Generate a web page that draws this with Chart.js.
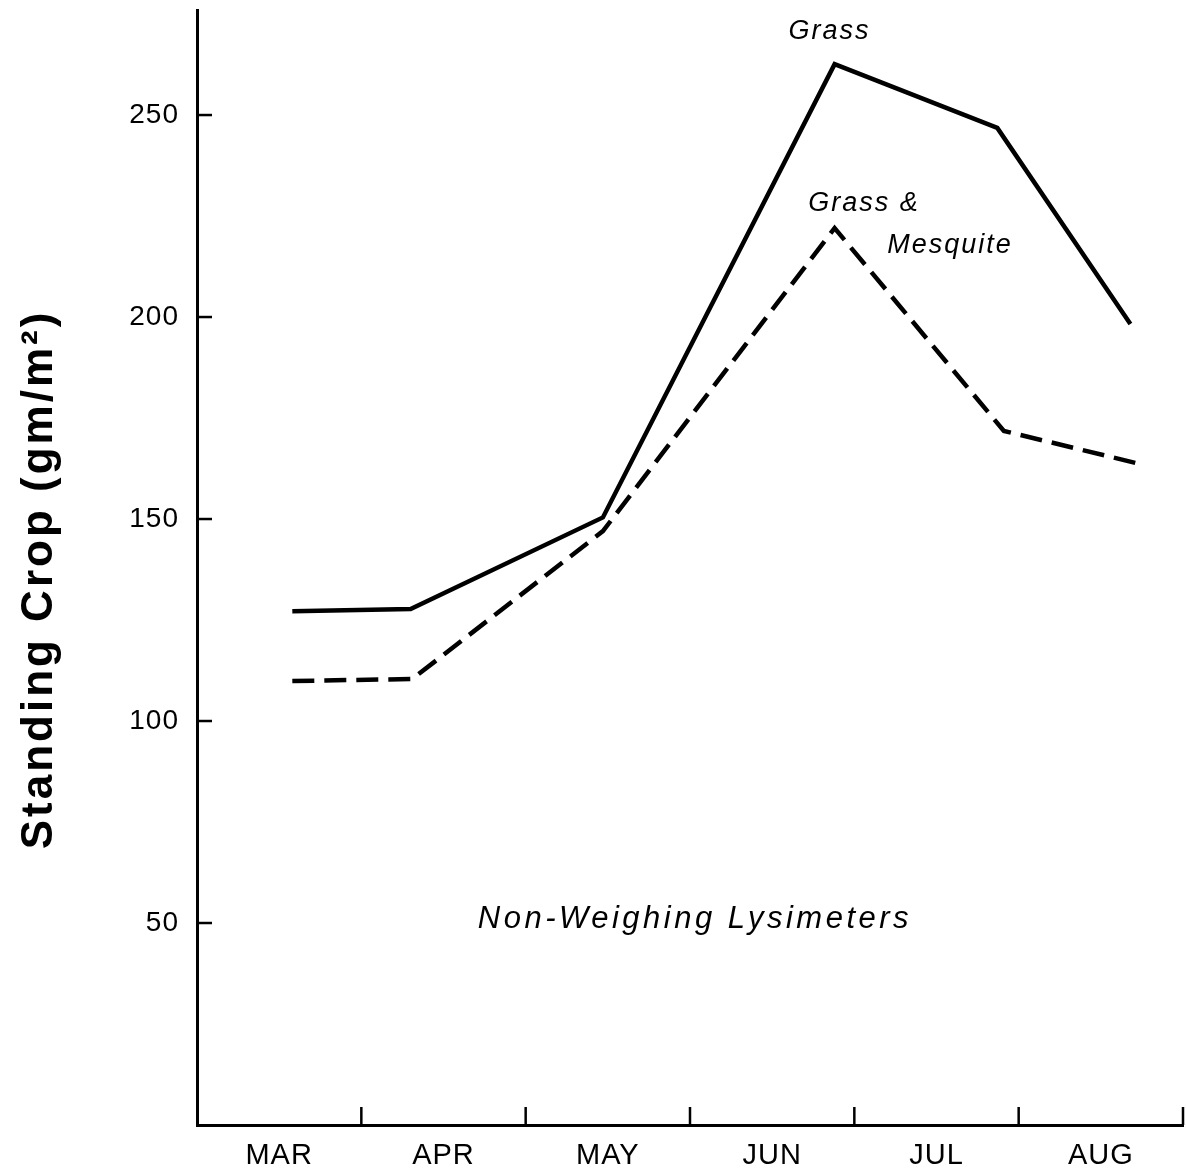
<!DOCTYPE html>
<html>
<head>
<meta charset="utf-8">
<script src="https://cdn.jsdelivr.net/npm/chart.js@4.4.0/dist/chart.umd.min.js"></script>
<style>
  html, body { margin: 0; padding: 0; background: #fff; }
  canvas { display: block; }
</style>
</head>
<body>
<canvas id="grafico" width="1186" height="1173"></canvas>
<script>
// meses (cada uno ocupa un intervalo del eje x)
const meses = ["MAR", "APR", "MAY", "JUN", "JUL", "AUG"];
const ticksY = [50, 100, 150, 200, 250];

// fechas de muestreo (en meses desde el 1 de marzo) y biomasa en pie
const grassX = [0.58, 1.30, 2.47, 3.88, 4.87, 5.68];
const grassY = [127.2, 127.7, 150.4, 262.6, 246.8, 198.3];
const mezclaX = [0.58, 1.31, 2.47, 3.88, 4.91, 5.71];
const mezclaY = [109.9, 110.4, 147.0, 222.0, 171.8, 163.9];

// textos sobre el gráfico: [texto, x, y, alineación, tamaño]
const rotulos = [
  ["Grass", 3.60, 270.8, "left", 27],
  ["Grass &", 3.72, 228.0, "left", 27],
  ["Mesquite", 4.20, 217.6, "left", 27],
  ["Non-Weighing Lysimeters", 3.03, 51.0, "center", 31]
];

const FUENTE = "'Liberation Sans', Arial, sans-serif";

const marcasPlugin = {
  id: "marcas",
  beforeDraw(chart) {
    chart.ctx.letterSpacing = "1px";
  },
  afterDraw(chart) {
    const { ctx, chartArea, scales } = chart;
    const x = scales.x, y = scales.y;
    ctx.save();
    ctx.strokeStyle = "#000";
    ctx.lineWidth = 2.5;
    // marcas del eje x hacia dentro
    for (let i = 1; i <= meses.length; i++) {
      const px = x.getPixelForValue(i);
      ctx.beginPath();
      ctx.moveTo(px, chartArea.bottom);
      ctx.lineTo(px, chartArea.bottom - 18);
      ctx.stroke();
    }
    // marcas del eje y hacia dentro
    ticksY.forEach(v => {
      const py = y.getPixelForValue(v);
      ctx.beginPath();
      ctx.moveTo(chartArea.left, py);
      ctx.lineTo(chartArea.left + 15, py);
      ctx.stroke();
    });

    // rótulos en cursiva
    ctx.fillStyle = "#000";
    ctx.textBaseline = "middle";
    rotulos.forEach(([t, vx, vy, al, tam]) => {
      ctx.font = `italic ${tam}px ${FUENTE}`;
      ctx.letterSpacing = tam > 28 ? "3.5px" : "2px";
      ctx.textAlign = al;
      ctx.fillText(t, x.getPixelForValue(vx), y.getPixelForValue(vy));
    });

    // título del eje y
    ctx.translate(40, (chartArea.top + chartArea.bottom) / 2 + 12);
    ctx.rotate(-Math.PI / 2);
    ctx.font = `bold 44px ${FUENTE}`;
    ctx.letterSpacing = "3px";
    ctx.textAlign = "center";
    ctx.fillText("Standing Crop (gm/m²)", 0, 0);
    ctx.restore();
  }
};

new Chart(document.getElementById("grafico"), {
  type: "line",
  data: {
    datasets: [
      {
        label: "Grass",
        data: grassX.map((v, i) => ({ x: v, y: grassY[i] })),
        borderColor: "#000",
        borderWidth: 4.5,
        pointRadius: 0,
        tension: 0
      },
      {
        label: "Grass & Mesquite",
        data: mezclaX.map((v, i) => ({ x: v, y: mezclaY[i] })),
        borderColor: "#000",
        borderWidth: 4.5,
        borderDash: [22, 10],
        pointRadius: 0,
        tension: 0
      }
    ]
  },
  options: {
    responsive: false,
    animation: false,
    layout: { padding: { top: 10, right: 3, left: 0, bottom: 0 } },
    plugins: {
      legend: { display: false },
      tooltip: { enabled: false }
    },
    scales: {
      x: {
        type: "linear",
        min: 0,
        max: 6,
        afterBuildTicks: s => { s.ticks = meses.map((m, i) => ({ value: i + 0.5 })); },
        afterFit: s => { s.height = 48; s.paddingLeft = 0; s.paddingRight = 0; },
        grid: { display: false, drawTicks: false },
        border: { display: true, color: "#000", width: 3 },
        ticks: {
          color: "#000",
          padding: 14,
          maxRotation: 0,
          font: { family: FUENTE, size: 29 },
          callback: v => meses[Math.floor(v)]
        }
      },
      y: {
        type: "linear",
        min: 0,
        max: 276,
        afterBuildTicks: s => { s.ticks = ticksY.map(v => ({ value: v })); },
        afterFit: s => { s.width = 197; s.paddingTop = 0; s.paddingBottom = 0; },
        grid: { display: false, drawTicks: false },
        border: { display: true, color: "#000", width: 3 },
        ticks: {
          color: "#000",
          padding: 18,
          font: { family: FUENTE, size: 28 }
        }
      }
    }
  },
  plugins: [marcasPlugin]
});
</script>
</body>
</html>
